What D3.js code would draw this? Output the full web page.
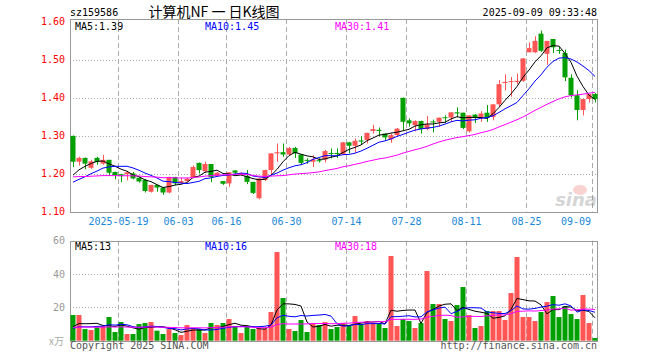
<!DOCTYPE html>
<html>
<head>
<meta charset="utf-8">
<script src="https://cdn.jsdelivr.net/npm/d3@7"></script>
<style>
  body { margin: 0; background: #fff; }
  text { font-family: "DejaVu Sans Mono", monospace; font-size: 10px; }
</style>
</head>
<body>
<svg id="chart" width="660" height="360"></svg>
<script>
// daily K-line, 88 sessions
const opens = [1.299,1.231,1.241,1.215,1.241,1.226,1.236,1.204,1.198,1.198,
  1.200,1.189,1.183,1.152,1.170,1.163,1.150,1.191,1.175,1.180,
  1.190,1.228,1.206,1.225,1.194,1.180,1.174,1.208,1.197,1.194,
  1.178,1.135,1.183,1.209,1.253,1.256,1.250,1.267,1.250,1.236,
  1.231,1.235,1.237,1.254,1.254,1.251,1.282,1.273,1.287,1.288,
  1.312,1.315,1.305,1.290,1.301,1.399,1.340,1.327,1.338,1.317,
  1.337,1.336,1.348,1.347,1.361,1.360,1.311,1.355,1.347,1.360,
  1.349,1.382,1.438,1.441,1.441,1.444,1.519,1.519,1.568,1.515,
  1.554,1.525,1.517,1.452,1.406,1.367,1.396,1.409]
const highs = [1.300,1.244,1.242,1.236,1.244,1.249,1.236,1.205,1.199,1.204,
  1.204,1.190,1.185,1.170,1.170,1.163,1.191,1.191,1.189,1.189,
  1.221,1.229,1.231,1.225,1.204,1.180,1.203,1.208,1.203,1.209,
  1.178,1.188,1.210,1.253,1.279,1.279,1.270,1.270,1.250,1.240,
  1.248,1.240,1.262,1.266,1.266,1.283,1.283,1.292,1.298,1.307,
  1.328,1.321,1.306,1.305,1.320,1.400,1.345,1.340,1.339,1.351,
  1.342,1.347,1.353,1.361,1.374,1.360,1.353,1.356,1.364,1.380,
  1.382,1.446,1.461,1.454,1.463,1.503,1.545,1.561,1.576,1.549,
  1.554,1.533,1.526,1.461,1.419,1.396,1.409,1.412]
const lows = [1.217,1.221,1.211,1.212,1.223,1.223,1.194,1.185,1.177,1.182,
  1.185,1.176,1.150,1.150,1.152,1.144,1.148,1.169,1.173,1.178,
  1.187,1.200,1.202,1.177,1.191,1.170,1.165,1.196,1.195,1.172,
  1.146,1.132,1.180,1.196,1.231,1.244,1.248,1.241,1.222,1.226,
  1.217,1.229,1.229,1.240,1.241,1.250,1.253,1.254,1.275,1.279,
  1.305,1.298,1.286,1.281,1.296,1.314,1.323,1.311,1.305,1.314,
  1.308,1.323,1.333,1.336,1.349,1.317,1.308,1.333,1.336,1.336,
  1.340,1.375,1.419,1.402,1.435,1.441,1.519,1.517,1.520,1.486,
  1.517,1.515,1.443,1.400,1.340,1.353,1.387,1.387]
const closes = [1.231,1.241,1.226,1.232,1.230,1.236,1.202,1.196,1.193,1.203,
  1.187,1.179,1.154,1.170,1.163,1.150,1.191,1.174,1.180,1.186,
  1.217,1.209,1.225,1.191,1.202,1.173,1.203,1.202,1.201,1.178,
  1.149,1.187,1.209,1.253,1.256,1.250,1.267,1.253,1.228,1.234,
  1.237,1.233,1.259,1.252,1.251,1.282,1.273,1.286,1.284,1.307,
  1.317,1.312,1.295,1.301,1.318,1.336,1.332,1.338,1.317,1.329,
  1.335,1.347,1.346,1.361,1.358,1.320,1.353,1.347,1.358,1.347,
  1.382,1.435,1.441,1.443,1.444,1.503,1.530,1.549,1.523,1.549,
  1.532,1.523,1.453,1.406,1.367,1.396,1.409,1.396]
// volume in 万
const volumes = [15.4,15.4,7,6.4,8,8.8,14.2,5.2,11.2,4,
  4,10,10.6,11.2,6,4,7,4.6,3.4,9.4,
  7.6,7,4.6,10.6,9.4,10.6,13,8.8,4.6,8.2,
  7,7.4,7.4,17.2,53.2,25.6,7,5.8,12.4,5.2,
  10.6,9.4,11.2,7,8.2,10.6,8.8,14.8,10,11.8,
  10.6,10.6,7.6,50.8,8.8,13,11.8,7.6,10.6,41.8,
  22,22,13,11.8,21.4,32.2,15.4,7.6,8.8,17.8,
  17.8,17.8,12.4,28.6,50.2,14.2,14.2,11.8,17.2,23.2,
  26.8,14.2,20.8,16,13,27.4,10.6,1.6]
// sessions before the visible window, only used for the moving averages
const priorCloses = [1.215,1.220,1.212,1.205,1.210,1.203,1.198,1.205,1.200,1.195,
  1.190,1.198,1.192,1.188,1.195,1.190,1.185,1.192,1.188,1.180,
  1.165,1.158,1.152,1.160,1.158,1.170,1.180,1.195,1.2015]
const priorVolumes = [9,8,7.5,10,8,7,9.5,8,7,8.5,
  9,8,7.5,9,8.5,8,7.5,9,8,8.5,
  6,7,6.5,5.5,7,6,7.5,6,7.1]

const dateTicks = [8,18,26,36,46,56,66,76,87]
const dateLabels = ["2025-05-19","06-03","06-16","06-30","07-14","07-28","08-11","08-25","09-09"]
const priceTicks = [1.10,1.20,1.30,1.40,1.50,1.60]
const volTicks = [20,40,60]
const maPeriods = [5,10,30]
const maColors = ["#000000","#0000ff","#ff00ff"]
const maLabels = ["MA5:1.39","MA10:1.45","MA30:1.41"]
const volMaLabels = ["MA5:13","MA10:16","MA30:18"]

const RED = "#ff5555", GREEN = "#00a000"
const left = 70, right = 597
const mainTop = 19, mainBottom = 211.5
const volTop = 240.7, volBottom = 340.7

function movingAvg(values, prior, n){
  let all = prior.concat(values)
  let off = prior.length
  return values.map((v, i) => d3.mean(all.slice(off + i - n + 1, off + i + 1)))
}

const svg = d3.select("#chart")
svg.append("rect").attr("width", 660).attr("height", 360).attr("fill", "#fff")

const idx = d3.range(closes.length)
const x = d3.scaleBand().domain(idx).range([left, 598]).paddingInner(1/6).paddingOuter(1/12)
const cx = i => x(i) + x.bandwidth() / 2
const y = d3.scaleLinear().domain([1.10, 1.60]).range([mainBottom, 21.5])
const yv = d3.scaleLinear().domain([0, 60]).range([volBottom, volTop])

// grids and frames
function frame(top, bottom, yScale, ticks){
  svg.append("g").selectAll("line").data(ticks).join("line")
    .attr("x1", left).attr("x2", right)
    .attr("y1", d => Math.round(yScale(d)) + 0.5).attr("y2", d => Math.round(yScale(d)) + 0.5)
    .attr("stroke", "#aaa").attr("stroke-dasharray", "1,2")
  svg.append("g").selectAll("line").data(dateTicks).join("line")
    .attr("x1", d => Math.floor(x(d)) + 0.5).attr("x2", d => Math.floor(x(d)) + 0.5)
    .attr("y1", top).attr("y2", bottom)
    .attr("stroke", "#aaa").attr("stroke-dasharray", "5,3")
  svg.append("rect")
    .attr("x", left + 0.5).attr("y", Math.round(top) + 0.5)
    .attr("width", right - left).attr("height", Math.round(bottom - top))
    .attr("fill", "none").attr("stroke", "#999")
}
frame(mainTop, mainBottom, y, [1.20,1.30,1.40,1.50])
frame(volTop, volBottom, yv, [20,40])

// watermark
const wm = svg.append("g").attr("opacity", 0.35)
wm.append("ellipse").attr("cx", 580).attr("cy", 190).attr("rx", 7).attr("ry", 5).attr("fill", "#f08080")
wm.append("text").attr("x", 597).attr("y", 206).attr("text-anchor", "end")
  .style("font-family", "DejaVu Sans").style("font-size", "18px").style("font-weight", "bold")
  .style("font-style", "italic").attr("fill", "#888").text("sina")

// candles
const candles = svg.append("g").selectAll("g").data(idx).join("g")
  .attr("fill", i => closes[i] >= opens[i] ? RED : GREEN)
  .attr("stroke", i => closes[i] >= opens[i] ? RED : GREEN)
candles.append("line")
  .attr("x1", i => Math.floor(cx(i)) + 0.5).attr("x2", i => Math.floor(cx(i)) + 0.5)
  .attr("y1", i => y(highs[i])).attr("y2", i => y(lows[i]))
candles.append("rect")
  .attr("x", i => x(i)).attr("width", x.bandwidth())
  .attr("y", i => y(Math.max(opens[i], closes[i])))
  .attr("height", i => Math.max(1, Math.abs(y(opens[i]) - y(closes[i]))))
  .attr("stroke", "none")

// volume bars
svg.append("g").selectAll("rect").data(idx).join("rect")
  .attr("x", i => x(i)).attr("width", x.bandwidth())
  .attr("y", i => yv(volumes[i])).attr("height", i => volBottom - yv(volumes[i]))
  .attr("fill", i => closes[i] >= opens[i] ? RED : GREEN)

// moving averages
maPeriods.forEach((n, k) => {
  let pm = movingAvg(closes, priorCloses, n)
  svg.append("path").datum(pm)
    .attr("fill", "none").attr("stroke", maColors[k]).attr("stroke-width", 1)
    .attr("d", d3.line().x((d, i) => cx(i)).y(d => y(d)))
  let vm = movingAvg(volumes, priorVolumes, n)
  svg.append("path").datum(vm)
    .attr("fill", "none").attr("stroke", maColors[k]).attr("stroke-width", 1)
    .attr("d", d3.line().x((d, i) => cx(i)).y(d => yv(d)))
})

// labels
svg.append("g").selectAll("text").data(priceTicks).join("text")
  .attr("x", 65).attr("y", d => y(d)).attr("dy", "0.35em").attr("text-anchor", "end")
  .attr("fill", "#ff0000").text(d => d.toFixed(2))
svg.append("g").selectAll("text").data(volTicks).join("text")
  .attr("x", 65).attr("y", d => yv(d)).attr("dy", "0.35em").attr("text-anchor", "end")
  .attr("fill", "#999").text(d => d)
svg.append("text").attr("x", 64).attr("y", 345).attr("text-anchor", "end")
  .attr("fill", "#aaa").style("font-family", "Noto Sans CJK SC").style("font-size", "10px").text("x万")

svg.append("g").selectAll("text").data(dateTicks).join("text")
  .attr("x", (d, k) => k == dateTicks.length - 1 ? 591 : x(d))
  .attr("y", 225)
  .attr("text-anchor", (d, k) => k == dateTicks.length - 1 ? "end" : "middle")
  .attr("fill", "#1a88d8").text((d, k) => dateLabels[k])

const maX = [75, 205, 335]
maLabels.forEach((t, k) => {
  svg.append("text").attr("x", maX[k]).attr("y", 30).attr("fill", maColors[k]).text(t)
  svg.append("text").attr("x", maX[k]).attr("y", 250).attr("fill", maColors[k]).text(volMaLabels[k])
})

svg.append("text").attr("x", 70).attr("y", 16).attr("fill", "#000").text("sz159586")
svg.append("text").attr("x", 214).attr("y", 17).attr("text-anchor", "middle")
  .style("font-family", "Noto Sans CJK SC").style("font-size", "14px").attr("fill", "#000")
  .text("计算机NF 一 日K线图")
svg.append("text").attr("x", 597).attr("y", 16).attr("text-anchor", "end").attr("fill", "#000")
  .text("2025-09-09 09:33:48")

svg.append("text").attr("x", 70).attr("y", 349).attr("fill", "#555").text("Copyright 2025 SINA.COM")
svg.append("text").attr("x", 597).attr("y", 349).attr("text-anchor", "end").attr("fill", "#555")
  .text("http://finance.sina.com.cn")
</script>
</body>
</html>
